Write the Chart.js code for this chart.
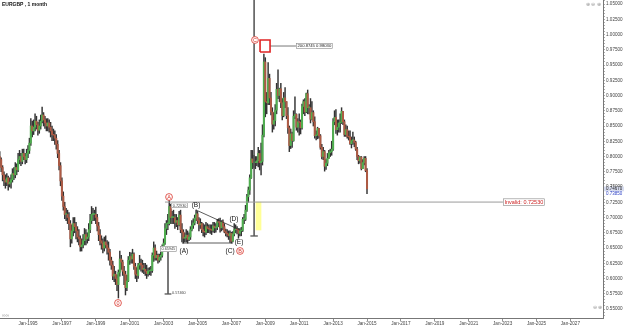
<!DOCTYPE html>
<html><head><meta charset="utf-8">
<script src="https://cdn.jsdelivr.net/npm/chart.js@4.4.0/dist/chart.umd.min.js"></script>
<style>html,body{margin:0;padding:0;background:#fff;}canvas{display:block;}</style>
</head><body>
<canvas id="c" width="625" height="329"></canvas>
<script>
// ---- DATA ----
const startYear = 1993, startMonth = 5; // first monthly candle: May 1993
const opens = [
.800,.795,.782,.770,.762,.758,.765,.755,
.758,.762,.772,.770,.782,.778,.795,.800,.792,.805,.800,.795,
.805,.810,.822,.850,.842,.848,.858,.852,.843,.850,.858,.868,
.860,.855,.850,.855,.848,.842,.836,.835,.830,.820,.805,.785,
.760,.735,.718,.705,.705,.700,.690,.665,.678,.690,.685,.678,
.668,.665,.652,.655,.662,.672,.665,.668,.680,.695,.705,.705,
.705,.700,.686,.672,.662,.658,.650,.660,.655,.650,.643,.630,
.622,.604,.607,.600,.590,.610,.632,.627,.612,.607,.585,.596,
.630,.636,.632,.640,.620,.607,.605,.622,.625,.622,.615,.615,
.612,.608,.612,.613,.613,.638,.650,.634,.638,.630,.635,.638,
.650,.658,.682,.690,.690,.718,.700,.700,.700,.692,.695,.688,
.704,.680,.676,.666,.667,.671,.664,.668,.680,.687,.691,.699,
.706,.695,.688,.690,.680,.677,.676,.685,.682,.681,.680,.679,
.686,.683,.684,.693,.692,.683,.693,.685,.677,.674,.673,.670,
.674,.661,.673,.680,.681,.680,.674,.678,.679,.697,.697,.712,
.734,.745,.765,.796,.790,.790,.790,.793,.805,.790,.792,.835,
.955,.890,.888,.928,.896,.873,.853,.859,.876,.910,.900,.911,
.888,.867,.896,.890,.867,.847,.818,.837,.826,.866,.869,.848,
.857,.856,.847,.882,.890,.873,.903,.880,.880,.861,.872,.857,
.834,.835,.846,.834,.815,.800,.808,.784,.789,.797,.806,.808,
.812,.857,.864,.844,.848,.855,.856,.874,.857,.836,.844,.833,
.832,.821,.826,.827,.823,.812,.800,.793,.799,.780,.790,.797,
.777];
const highs = [
.808,.798,.785,.775,.770,.772,.768,.765,
.770,.780,.782,.790,.788,.805,.810,.805,.812,.812,.805,.812,
.818,.830,.862,.858,.860,.870,.866,.856,.860,.868,.881,.872,
.866,.862,.862,.860,.856,.850,.845,.842,.836,.826,.810,.790,
.765,.742,.725,.715,.712,.708,.695,.688,.700,.700,.692,.685,
.680,.670,.665,.672,.682,.680,.675,.690,.705,.718,.715,.712,
.717,.705,.692,.680,.670,.665,.668,.670,.662,.660,.648,.635,
.628,.620,.612,.606,.614,.645,.638,.630,.620,.612,.605,.636,
.643,.642,.648,.642,.625,.618,.625,.638,.632,.630,.625,.625,
.622,.617,.618,.620,.642,.660,.655,.645,.640,.640,.645,.655,
.665,.690,.695,.705,.7295,.722,.710,.712,.705,.705,.700,.710,
.712,.690,.680,.675,.680,.678,.675,.685,.695,.698,.704,.712,
.710,.700,.698,.692,.690,.688,.692,.690,.688,.688,.688,.692,
.692,.690,.697,.698,.699,.695,.696,.690,.681,.680,.678,.678,
.676,.677,.690,.688,.685,.682,.682,.684,.700,.705,.720,.738,
.750,.770,.810,.810,.802,.800,.800,.815,.810,.822,.852,.968,
.962,.905,.954,.935,.905,.880,.872,.885,.920,.942,.912,.920,
.895,.905,.913,.890,.880,.850,.845,.840,.875,.898,.870,.862,
.870,.860,.886,.893,.895,.904,.909,.885,.895,.890,.875,.865,
.842,.848,.846,.836,.820,.815,.810,.795,.805,.810,.812,.825,
.862,.875,.877,.860,.860,.870,.880,.874,.860,.852,.850,.842,
.842,.832,.840,.832,.825,.815,.802,.800,.800,.795,.800,.800,
.780];
const lows = [
.785,.775,.760,.752,.748,.752,.745,.750,
.748,.758,.762,.765,.770,.775,.788,.785,.788,.795,.788,.790,
.798,.805,.818,.832,.836,.842,.845,.835,.838,.845,.855,.850,
.846,.842,.842,.840,.832,.826,.826,.820,.812,.798,.778,.752,
.728,.712,.698,.695,.690,.680,.652,.658,.670,.675,.665,.660,
.655,.645,.645,.650,.655,.655,.658,.662,.675,.690,.695,.695,
.690,.678,.662,.655,.648,.642,.645,.650,.640,.630,.622,.615,
.598,.595,.590,.580,.568,.604,.615,.605,.590,.573,.580,.595,
.623,.625,.625,.615,.600,.595,.600,.615,.612,.610,.608,.605,
.600,.604,.606,.605,.610,.628,.630,.630,.625,.627,.630,.635,
.645,.656,.672,.680,.688,.690,.690,.690,.682,.685,.680,.686,
.675,.660,.658,.660,.660,.658,.662,.664,.678,.682,.688,.695,
.690,.678,.682,.675,.670,.668,.672,.675,.675,.674,.672,.676,
.675,.676,.680,.685,.676,.678,.680,.675,.670,.668,.664,.659,
.658,.660,.670,.675,.673,.666,.670,.670,.677,.690,.695,.710,
.725,.738,.764,.780,.782,.780,.785,.783,.778,.770,.786,.832,
.865,.870,.885,.885,.868,.840,.845,.850,.870,.895,.890,.880,
.860,.865,.880,.862,.838,.808,.813,.815,.825,.862,.843,.840,
.835,.837,.845,.870,.867,.872,.870,.870,.855,.860,.850,.830,
.827,.829,.830,.812,.796,.795,.776,.779,.785,.797,.800,.802,
.810,.852,.838,.835,.840,.840,.854,.852,.833,.833,.830,.827,
.820,.814,.820,.816,.810,.795,.788,.789,.778,.780,.786,.775,
.739];
const closes = [
.795,.782,.770,.762,.758,.765,.755,.758,
.762,.772,.770,.782,.778,.795,.800,.792,.805,.800,.795,.805,
.810,.822,.850,.842,.848,.858,.852,.843,.850,.858,.868,.860,
.855,.850,.855,.848,.842,.836,.835,.830,.820,.805,.785,.760,
.735,.718,.705,.705,.700,.690,.665,.678,.690,.685,.678,.668,
.665,.652,.655,.662,.672,.665,.668,.680,.695,.705,.705,.705,
.700,.686,.672,.662,.658,.650,.660,.655,.650,.643,.630,.622,
.604,.607,.600,.590,.610,.632,.627,.612,.607,.585,.596,.630,
.636,.632,.640,.620,.607,.605,.622,.625,.622,.615,.615,.612,
.608,.612,.613,.613,.638,.650,.634,.638,.630,.635,.638,.650,
.658,.682,.690,.690,.718,.700,.700,.700,.692,.695,.688,.704,
.680,.676,.666,.667,.671,.664,.668,.680,.687,.691,.699,.706,
.695,.688,.690,.680,.677,.676,.685,.682,.681,.680,.679,.686,
.683,.684,.693,.692,.683,.693,.685,.677,.674,.673,.670,.674,
.661,.673,.680,.681,.680,.674,.678,.679,.697,.697,.712,.734,
.745,.765,.796,.790,.790,.790,.793,.805,.790,.792,.835,.955,
.890,.888,.928,.896,.873,.853,.859,.876,.910,.900,.911,.888,
.867,.896,.890,.867,.847,.818,.837,.826,.866,.869,.848,.857,
.856,.847,.882,.890,.873,.903,.880,.880,.861,.872,.857,.834,
.835,.846,.834,.815,.800,.808,.784,.789,.797,.806,.808,.812,
.857,.864,.844,.848,.855,.856,.874,.857,.836,.844,.833,.832,
.821,.826,.827,.823,.812,.800,.793,.799,.780,.790,.797,.777,
.747];
const yTicks = [0.550,0.575,0.600,0.625,0.650,0.675,0.700,0.725,0.750,0.775,0.800,0.825,0.850,0.875,0.900,0.925,0.950,0.975,1.000,1.025,1.050];
const xTicks = [1995,1997,1999,2001,2003,2005,2007,2009,2011,2013,2015,2017,2019,2021,2023,2025,2027];
const xTickLabels = ['Jan-1995','Jan-1997','Jan-1999','Jan-2001','Jan-2003','Jan-2005','Jan-2007','Jan-2009','Jan-2011','Jan-2013','Jan-2015','Jan-2017','Jan-2019','Jan-2021','Jan-2023','Jan-2025','Jan-2027'];

// ---- ANNOTATIONS (data coordinates: decimal year, price) ----
const circleLabels = [
  {t:'A', x:2003.32, y:0.7336},
  {t:'B', x:2007.51, y:0.6451},
  {t:'C', x:2008.39, y:0.9910},
  {t:'0', x:2000.31, y:0.5599}
];
const waveLabels = [
  {t:'(A)', x:2004.20, y:0.6451},
  {t:'(B)', x:2004.91, y:0.7205},
  {t:'(C)', x:2006.92, y:0.6451},
  {t:'(D)', x:2007.15, y:0.6975},
  {t:'(E)', x:2007.45, y:0.6598}
];
const invalidLevel = 0.7253, invalidFrom = 2003.08, invalidTo = 2023.02;
const invalidText = 'Invalid: 0.72530';
const peakBox = {x0:2008.69, x1:2009.28, y0:0.9713, y1:0.9910};
const peakLine = {x0:2009.28, x1:2010.81, y:0.9811};
const peakText = '200.8745 0.98030';
const measure1 = {x:2008.34, y0:1.0566, y1:0.6697};
const yellowZone = {x:2008.60, y0:0.6795, y1:0.7253};
const measure2 = {x:2003.26, y0:0.6484, y1:0.5746};
const measure2Top = '0.65945', measure2Bottom = '0.57460';
const aPeakText = '0.72930';
const triLine = [{x:2004.91,y:0.7123},{x:2007.51,y:0.6795}];
const baseLine = [{x:2004.09,y:0.6582},{x:2007.09,y:0.6582}];
const priceTags = [{v:0.7467, t:'0.74670', bg:'#d7dcef', fg:'#222'}, {v:0.7385, t:'0.73850', bg:'#ffffff', fg:'#2b3fc4'}];

// ---- BUILD ----
const times = opens.map((_, i) => startYear + (startMonth - 1 + i) / 12);
const UP = '#4fae4f', DOWN = '#ad5a44', WICK = '#333333';
const bodies = times.map((t, i) => ({x: t, y: [opens[i], closes[i]]}));
const wicks = times.map((t, i) => ({x: t, y: [lows[i], highs[i]]}));
const FONT = '"Liberation Sans", Arial, sans-serif';

function lineDS(data, color, width, order) {
  return {type:'line', data, borderColor:color, borderWidth:width, pointRadius:0, fill:false, tension:0, order};
}

const annotPlugin = {
  id: 'annot',
  afterDatasetsDraw(chart) {
    const {ctx, scales:{x, y}} = chart;
    ctx.save();
    ctx.textBaseline = 'middle';
    ctx.fillStyle = '#d9342b';
    ctx.font = '5.5px ' + FONT;
    ctx.textAlign = 'center';
    circleLabels.forEach(l => ctx.fillText(l.t, x.getPixelForValue(l.x), y.getPixelForValue(l.y) + 0.3));
    ctx.fillStyle = '#111';
    ctx.font = '6.5px ' + FONT;
    waveLabels.forEach(l => ctx.fillText(l.t, x.getPixelForValue(l.x), y.getPixelForValue(l.y)));
    function box(text, px, py, color, size) {
      ctx.font = size + 'px ' + FONT;
      const w = ctx.measureText(text).width + 3, h = size + 2;
      ctx.fillStyle = '#fff';
      ctx.fillRect(px, py - h / 2, w, h);
      ctx.strokeStyle = '#888'; ctx.lineWidth = 0.6;
      ctx.strokeRect(px + 0.5, py - h / 2 + 0.5, w - 1, h - 1);
      ctx.fillStyle = color; ctx.textAlign = 'left';
      ctx.fillText(text, px + 1.5, py + 0.3);
      return w;
    }
    box(invalidText, x.getPixelForValue(invalidTo), y.getPixelForValue(invalidLevel), '#cc2222', 5.5);
    box(peakText, x.getPixelForValue(peakLine.x1), y.getPixelForValue(peakLine.y), '#222', 4.2);
    box(aPeakText, x.getPixelForValue(2003.45), y.getPixelForValue(0.7200), '#444', 3.8);
    box(measure2Top, x.getPixelForValue(measure2.x) - 8, y.getPixelForValue(measure2.y0), '#444', 3.8);
    ctx.font = '3.8px ' + FONT; ctx.fillStyle = '#444'; ctx.textAlign = 'left';
    ctx.fillText(measure2Bottom, x.getPixelForValue(measure2.x) + 4, y.getPixelForValue(measure2.y1) - 1);
    ctx.restore();
  },
  afterDraw(chart) {
    const {ctx, scales:{y}, chartArea} = chart;
    ctx.save();
    ctx.textBaseline = 'middle';
    ctx.fillStyle = '#111';
    ctx.font = 'bold 5px ' + FONT;
    ctx.textAlign = 'left';
    ctx.fillText('EURGBP , 1 month', 2, 4.5);
    ctx.fillStyle = '#999';
    ctx.font = '5px ' + FONT;
    ctx.fillText('\u2295 \u2296 \u2295', 586, 4.5);
    ctx.fillText('\u2296 \u2295', 593, 308);
    ctx.fillText('\u221E\u221E', 2, 316);
    priceTags.forEach(p => {
      const py = y.getPixelForValue(p.v);
      ctx.fillStyle = p.bg;
      ctx.fillRect(chartArea.right + 1, py - 2.5, 20, 5);
      ctx.fillStyle = p.fg;
      ctx.font = '4.5px ' + FONT;
      ctx.fillText(p.t, chartArea.right + 3, py + 0.2);
    });
    ctx.restore();
  }
};

const minorTicks = [];
for (let k = 108; k <= 211; k++) minorTicks.push(k / 200);

new Chart(document.getElementById('c'), {
  data: {
    datasets: [
      lineDS([{x:invalidFrom,y:invalidLevel},{x:invalidTo,y:invalidLevel}], '#9a9a9a', 1, 0),
      lineDS([{x:peakBox.x0,y:peakBox.y0},{x:peakBox.x1,y:peakBox.y0},{x:peakBox.x1,y:peakBox.y1},{x:peakBox.x0,y:peakBox.y1},{x:peakBox.x0,y:peakBox.y0}], '#e02424', 1.6, 0),
      lineDS([{x:peakLine.x0,y:peakLine.y},{x:peakLine.x1,y:peakLine.y}], '#555', 0.8, 0),
      lineDS([{x:measure1.x,y:measure1.y0},{x:measure1.x,y:measure1.y1}], '#555', 0.8, 0),
      lineDS([{x:measure1.x-0.22,y:measure1.y1},{x:measure1.x+0.22,y:measure1.y1}], '#222', 1, 0),
      lineDS([{x:measure2.x,y:measure2.y0},{x:measure2.x,y:measure2.y1}], '#555', 0.8, 0),
      lineDS([{x:measure2.x-0.2,y:measure2.y1},{x:measure2.x+0.2,y:measure2.y1}], '#222', 1, 0),
      lineDS(triLine, '#333', 0.8, 0),
      lineDS(baseLine, '#333', 0.8, 0),
      {type:'line', data: circleLabels.map(l => ({x:l.x, y:l.y})), showLine:false,
       pointRadius:3.4, pointBorderColor:'#d9342b', pointBackgroundColor:'#ffffff', pointBorderWidth:0.8, order:-1},
      {type:'bar', label:'bodies', data: bodies, grouped:false, barThickness:1.4, minBarLength:0.8,
       backgroundColor: ctx => (closes[ctx.dataIndex] >= opens[ctx.dataIndex] ? UP : DOWN), borderWidth:0, order:1},
      {type:'bar', label:'wicks', data: wicks, grouped:false, barThickness:0.8,
       backgroundColor: WICK, borderWidth:0, order:2},
      {type:'bar', label:'zone', data: [{x:yellowZone.x, y:[yellowZone.y0, yellowZone.y1]}], grouped:false, barThickness:5,
       backgroundColor:'rgba(255,255,140,0.9)', borderWidth:0, order:3}
    ]
  },
  options: {
    responsive:false, animation:false, events:[],
    layout:{padding:0, autoPadding:false},
    plugins:{legend:{display:false}, tooltip:{enabled:false}},
    scales:{
      x:{type:'linear', position:'bottom', min:1993.348, max:2028.923, offset:false,
        afterBuildTicks: s => { s.ticks = xTicks.map(v => ({value:v})); },
        afterFit: s => { s.height = 11; s.paddingLeft = 0; s.paddingRight = 0; },
        ticks:{autoSkip:false, maxRotation:0, padding:0, color:'#444', font:{size:4.6, family:FONT},
               callback: v => xTickLabels[xTicks.indexOf(v)] || ''},
        grid:{drawOnChartArea:false, offset:false, tickLength:3, color:'#777', lineWidth:0.8},
        border:{display:true, color:'#777', width:1}},
      y:{type:'linear', position:'right', min:0.53525, max:1.05656,
        afterBuildTicks: s => { s.ticks = minorTicks.map(v => ({value:v})); },
        afterFit: s => { s.width = 22; s.paddingTop = 0; s.paddingBottom = 0; },
        ticks:{autoSkip:false, padding:1, color:'#444', font:{size:4.6, family:FONT},
               callback: v => (yTicks.some(t => Math.abs(t - v) < 1e-6) ? v.toFixed(5) : '')},
        grid:{drawOnChartArea:false, tickLength:2, color:'#777', lineWidth:0.6},
        border:{display:true, color:'#777', width:1}}
    }
  },
  plugins:[annotPlugin]
});
</script>
</body></html>
